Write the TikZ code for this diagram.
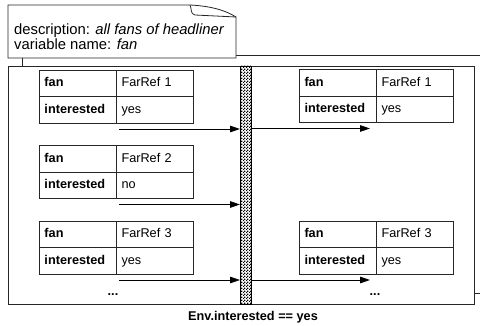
\documentclass[tikz,border=0pt]{standalone}
\usepackage{fontspec}
\setmainfont{Liberation Sans}
\usepackage{tikz}
\usetikzlibrary{arrows.meta}
\usetikzlibrary{patterns}

\pgfdeclarepatternformonly{finechecker}{\pgfpointorigin}{\pgfqpoint{3pt}{3pt}}{\pgfqpoint{3pt}{3pt}}{%
 \pgfpathrectangle{\pgfpointorigin}{\pgfqpoint{1.5pt}{1.5pt}}%
 \pgfpathrectangle{\pgfqpoint{1.5pt}{1.5pt}}{\pgfqpoint{1.5pt}{1.5pt}}%
 \pgfusepath{fill}}

\tikzset{
 frame/.style={draw=black!85, line width=0.8pt},
 keycell/.style={draw=black!85, line width=0.8pt, outer sep=0pt, minimum width=77pt, minimum height=26.7pt,
   text width=66pt, text height=9.2pt, text depth=2.6pt, inner xsep=5.5pt, align=left,
   font=\fontsize{12.7}{15}\selectfont\bfseries},
 valcell/.style={keycell, font=\fontsize{12.7}{15}\selectfont},
 flow/.style={draw=black, line width=0.8pt, -{Triangle[length=10pt,width=6.5pt]}},
}

% one record of the collection: #1 name, #2 top left corner, #3 reference, #4 interested
\newcommand{\fanrec}[4]{%
 \node[keycell, anchor=north west] (#1k) at (#2) {fan};
 \node[valcell, anchor=west] (#1r) at (#1k.east) {#3};
 \node[keycell, anchor=north] (#1i) at (#1k.south) {interested};
 \node[valcell, anchor=west] (#1v) at (#1i.east) {#4};
}

\begin{document}
\begin{tikzpicture}[x=1pt, y=-1pt]
\useasboundingbox (0,0) rectangle (480,326);

% stacked collection frames
\draw[frame] (480,55) -- (22,55) -- (22,293) -- (480,293);
\draw[frame, fill=white] (8,66) rectangle (474,304);

% note with folded corner
\draw[frame, fill=white] (8,58) -- (8,5) -- (190,5) .. controls (210,6) and (225,10) .. (236,17) -- (236,58) -- cycle;
\draw[frame] (190,5) .. controls (192,9) and (190,14) .. (195,15) -- (236,17);
\node[anchor=north west, inner sep=0pt, align=left, font=\fontsize{14.8}{15}\selectfont] (descr) at (14,23.5)
 {description: \textit{all fans of headliner}\\variable name: \textit{fan}};

% filter bar
\node[draw=black, line width=0.8pt, pattern=finechecker, minimum width=11pt, minimum height=238pt,
 inner sep=0pt, outer sep=0pt, anchor=north west] (filter) at (240,66) {};

% input records
\fanrec{a}{39,70}{FarRef 1}{yes}
\fanrec{b}{39,145.5}{FarRef 2}{no}
\fanrec{c}{39,221}{FarRef 3}{yes}
\node[font=\fontsize{12.7}{15}\selectfont\bfseries, anchor=base] (moreL) at (113,296) {...};

% output records
\fanrec{d}{299,69.5}{FarRef 1}{yes}
\fanrec{e}{299,221}{FarRef 3}{yes}
\node[font=\fontsize{12.7}{15}\selectfont\bfseries, anchor=base] (moreR) at (375,296) {...};

% arrows into and out of the filter
\coordinate (inA) at (119,129);
\coordinate (inB) at (119,204.5);
\coordinate (inC) at (119,280);
\foreach \p in {inA,inB,inC} {
 \draw[flow] (\p) -- (filter.west |- \p);
}
\coordinate (outA) at (370,128.5);
\coordinate (outC) at (370,280);
\foreach \p in {outA,outC} {
 \draw[flow] (filter.east |- \p) -- (\p);
}

\node[font=\fontsize{12.7}{15}\selectfont\bfseries] (cond) at (253,317) {Env.interested == yes};
\end{tikzpicture}
\end{document}
